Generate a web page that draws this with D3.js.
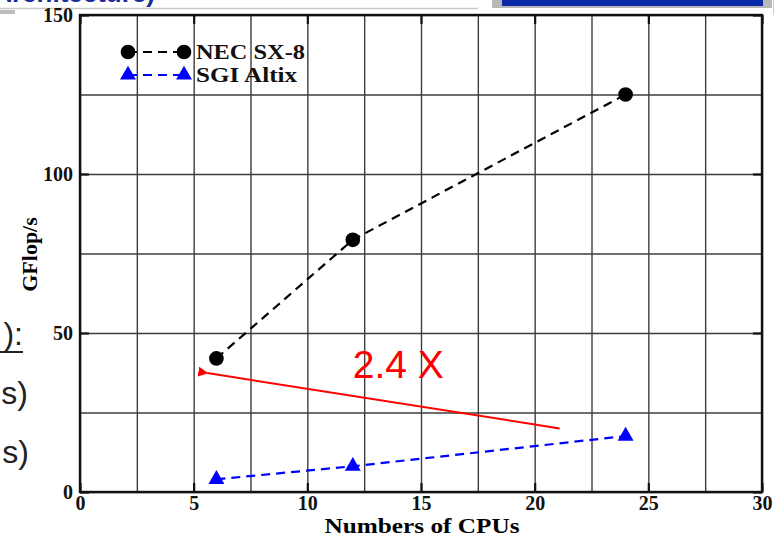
<!DOCTYPE html>
<html>
<head>
<meta charset="utf-8">
<script src="https://cdn.jsdelivr.net/npm/d3@7"></script>
<style>
  body { margin: 0; background: #fff; }
  svg { display: block; }
  .axis path { display: none; }
  .grid line { stroke: #3c3c3c; stroke-width: 1.4; }
  .grid path { display: none; }
  .ticklab text { font-family: "Liberation Serif", "Times New Roman", serif; font-weight: bold; font-size: 20px; fill: #111; }
</style>
</head>
<body>
<div id="chart"></div>
<script>
// data
var cpus = [6, 12, 24];
var necSX8 = [42, 79.3, 125];
var sgiAltix = [4, 8.1, 17.6];
var seriesNames = ["NEC SX-8", "SGI Altix"];
var xTicks = [0, 5, 10, 15, 20, 25, 30];
var yTicks = [0, 50, 100, 150];
var arrowFrom = [21.1, 20];
var arrowTo = [5.6, 37.4];
var speedupLabel = "2.4 X";

//Define Margin
var margin = {left: 80, right: 22, top: 15, bottom: 46},
    width = 784 - margin.left - margin.right,
    height = 538 - margin.top - margin.bottom;

var svg = d3.select("div#chart")
    .append("svg")
    .attr("width", 784)
    .attr("height", 538);

// bits of the slide around the chart
svg.append("text")
    .attr("x", 155).attr("y", 2)
    .attr("text-anchor", "end")
    .style("font-family", "Liberation Sans, Arial, sans-serif")
    .style("font-weight", "bold")
    .style("font-size", "26px")
    .style("fill", "#1b2c9c")
    .text("Architecture)");
svg.append("line").attr("x1", 0).attr("x2", 478).attr("y1", 8.5).attr("y2", 8.5)
    .style("stroke", "#c8c8c8").style("stroke-width", 1.5);
svg.append("rect").attr("x", 0).attr("y", 10).attr("width", 15).attr("height", 4).style("fill", "#bdbdbd");
svg.append("rect").attr("x", 492).attr("y", -2).attr("width", 280).attr("height", 10).style("fill", "#b8b8b8");
svg.append("rect").attr("x", 502).attr("y", -2).attr("width", 261).attr("height", 8).style("fill", "#0a2aa8");
svg.append("line").attr("x1", 773.5).attr("x2", 773.5).attr("y1", 0).attr("y2", 15)
    .style("stroke", "#cfcfcf").style("stroke-width", 1);

var sideText = [["):", 23, 345], ["s)", 28, 404], ["s)", 29, 463]];
sideText.forEach(function(t) {
    svg.append("text")
        .attr("x", t[1]).attr("y", t[2])
        .attr("text-anchor", "end")
        .style("font-family", "Liberation Sans, Arial, sans-serif")
        .style("font-size", "32px")
        .style("fill", "#222")
        .text(t[0]);
});
svg.append("line").attr("x1", 0).attr("x2", 23).attr("y1", 352).attr("y2", 352)
    .style("stroke", "#222").style("stroke-width", 2);

var g = svg.append("g")
    .attr("transform", "translate(" + margin.left + "," + margin.top + ")");

//Define Scales
var xScale = d3.scaleLinear().domain([0, 30]).range([0, width]);
var yScale = d3.scaleLinear().domain([0, 150]).range([height, 0]);

// grid every 2.5 / 25
g.append("g")
    .attr("class", "grid")
    .attr("transform", "translate(0," + height + ")")
    .call(d3.axisBottom(xScale).tickValues(d3.range(0, 30.1, 2.5)).tickSize(-height).tickFormat(""));
g.append("g")
    .attr("class", "grid")
    .call(d3.axisLeft(yScale).tickValues(d3.range(0, 150.1, 25)).tickSize(-width).tickFormat(""));

// major ticks, inside
g.append("g")
    .attr("class", "axis ticklab")
    .attr("transform", "translate(0," + height + ")")
    .call(d3.axisBottom(xScale).tickValues(xTicks).tickSize(-9).tickPadding(4).tickFormat(d3.format("d")))
    .selectAll("line").style("stroke", "#111").style("stroke-width", 2.2);
g.append("g")
    .attr("class", "axis ticklab")
    .call(d3.axisLeft(yScale).tickValues(yTicks).tickSize(-9).tickPadding(7).tickFormat(d3.format("d")))
    .selectAll("line").style("stroke", "#111").style("stroke-width", 2.2);
g.append("g")
    .attr("class", "axis")
    .attr("transform", "translate(" + width + ",0)")
    .call(d3.axisRight(yScale).tickValues(yTicks).tickSize(-9).tickFormat(""))
    .selectAll("line").style("stroke", "#111").style("stroke-width", 2.2);
g.append("g")
    .attr("class", "axis")
    .call(d3.axisTop(xScale).tickValues(xTicks).tickSize(-9).tickFormat(""))
    .selectAll("line").style("stroke", "#111").style("stroke-width", 2.2);

// frame
g.append("rect")
    .attr("width", width).attr("height", height)
    .style("fill", "none").style("stroke", "#111").style("stroke-width", 2.4);

// axis titles
g.append("text")
    .attr("x", width / 2 + 1).attr("y", height + 41)
    .attr("text-anchor", "middle")
    .style("font-family", "Liberation Serif, Times New Roman, serif")
    .style("font-weight", "bold").style("font-size", "22px")
    .attr("textLength", 195)
    .attr("lengthAdjust", "spacingAndGlyphs")
    .text("Numbers of CPUs");
g.append("text")
    .attr("transform", "translate(-43," + (height / 2 + 1) + ") rotate(-90)")
    .attr("text-anchor", "middle")
    .style("font-family", "Liberation Serif, Times New Roman, serif")
    .style("font-weight", "bold").style("font-size", "22px")
    .text("GFlop/s");

// series
var series = [
    {name: seriesNames[0], values: necSX8, color: "#000", shape: d3.symbolCircle, size: 170, len: 109},
    {name: seriesNames[1], values: sgiAltix, color: "#0000ff", shape: d3.symbolTriangle, size: 110, len: 101}
];

var line = d3.line()
    .x(function(d) { return xScale(d[0]); })
    .y(function(d) { return yScale(d[1]); });

series.forEach(function(s) {
    var pts = cpus.map(function(c, i) { return [c, s.values[i]]; });
    g.append("path")
        .datum(pts)
        .attr("d", line)
        .style("fill", "none")
        .style("stroke", s.color)
        .style("stroke-width", 2.2)
        .style("stroke-dasharray", "9,6");
    g.selectAll(null)
        .data(pts)
        .enter().append("path")
        .attr("d", d3.symbol().type(s.shape).size(s.size))
        .attr("transform", function(d) { return "translate(" + xScale(d[0]) + "," + yScale(d[1]) + ")"; })
        .style("fill", s.color);
});

// legend
var legend = g.append("g").attr("transform", "translate(48,37)");
series.forEach(function(s, i) {
    var row = legend.append("g").attr("transform", "translate(0," + (i * 23) + ")");
    row.append("line")
        .attr("x1", 0).attr("x2", 56)
        .style("stroke", s.color).style("stroke-width", 2.2).style("stroke-dasharray", "9,6");
    [0, 56].forEach(function(px) {
        row.append("path")
            .attr("d", d3.symbol().type(s.shape).size(s.size))
            .attr("transform", "translate(" + px + ",0)")
            .style("fill", s.color);
    });
    row.append("text")
        .attr("x", 68).attr("y", 7)
        .style("font-family", "Liberation Serif, Times New Roman, serif")
        .style("font-weight", "bold").style("font-size", "21px")
        .attr("textLength", s.len)
        .attr("lengthAdjust", "spacingAndGlyphs")
        .style("fill", "#111")
        .text(s.name);
});

// speed-up annotation
svg.append("defs").append("marker")
    .attr("id", "arrowhead")
    .attr("viewBox", "0 0 10 10")
    .attr("refX", 1).attr("refY", 5)
    .attr("markerWidth", 5).attr("markerHeight", 5)
    .attr("orient", "auto-start-reverse")
    .append("path")
    .attr("d", "M0,5 L10,0 L10,10 Z")
    .style("fill", "#ff0000");

g.append("line")
    .attr("x1", xScale(arrowFrom[0])).attr("y1", yScale(arrowFrom[1]))
    .attr("x2", xScale(arrowTo[0])).attr("y2", yScale(arrowTo[1]))
    .attr("marker-end", "url(#arrowhead)")
    .style("stroke", "#ff0000").style("stroke-width", 2);

g.append("text")
    .attr("x", xScale(14)).attr("y", yScale(35.8))
    .attr("text-anchor", "middle")
    .style("font-family", "Liberation Sans, Arial, sans-serif")
    .style("font-size", "39px")
    .style("fill", "#ff0000")
    .text(speedupLabel);
</script>
</body>
</html>
